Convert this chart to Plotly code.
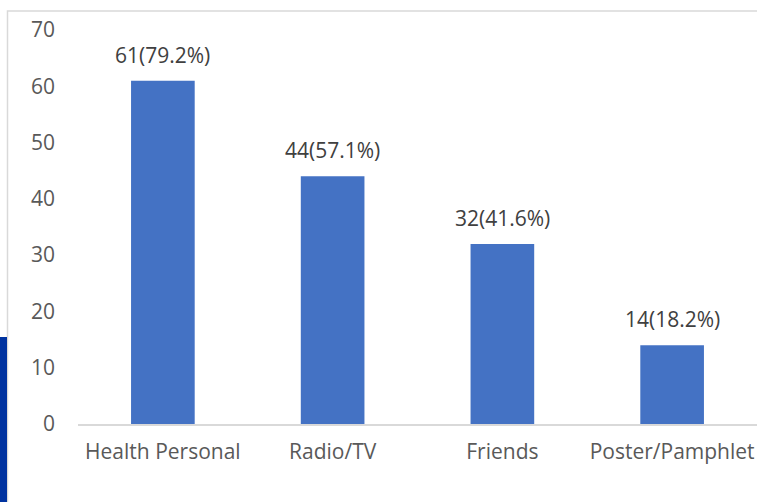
import plotly.graph_objects as go

categories = ["Health Personal", "Radio/TV", "Friends", "Poster/Pamphlet"]
counts = [61, 44, 32, 14]
percents = ["79.2%", "57.1%", "41.6%", "18.2%"]
y_ticks = [0, 10, 20, 30, 40, 50, 60, 70]

labels = [f"{c}({p})" for c, p in zip(counts, percents)]

W, H = 757, 502
ml, mr, mt, mb = 78, 0, 30, 78
pw, ph = W - ml - mr, H - mt - mb

def px(x):
    return (x - ml) / pw

def py(y):
    return (H - mb - y) / ph

FONT = "Open Sans"
FS = 21

fig = go.Figure(go.Bar(
    x=categories, y=counts,
    marker=dict(color="#4472C4", line=dict(width=0)),
    width=0.375, hoverinfo="x+y",
))

annotations = [
    dict(x=c, y=v, text=t, xref="x", yref="y", showarrow=False,
         yanchor="bottom", yshift=10,
         font=dict(family=FONT, size=FS, color="#404040"))
    for c, v, t in zip(categories, counts, labels)
]

fig.update_layout(
    width=W, height=H, margin=dict(l=ml, r=mr, t=mt, b=mb),
    paper_bgcolor="white", plot_bgcolor="white", showlegend=False,
    font=dict(family=FONT, size=FS, color="#595959"),
    xaxis=dict(showline=True, linecolor="#d9d9d9", linewidth=1.5, showgrid=False,
               ticks="", ticklabelstandoff=8, tickfont=dict(size=FS, color="#595959")),
    yaxis=dict(range=[0, 70], tickvals=y_ticks, showgrid=False, zeroline=False,
               showline=False, ticks="", ticklabelstandoff=22,
               tickfont=dict(size=FS, color="#595959")),
    annotations=annotations,
    shapes=[
        dict(type="rect", xref="paper", yref="paper", x0=px(7.5), x1=px(W + 20),
             y0=py(11), y1=py(H + 20), line=dict(color="#d9d9d9", width=1.5),
             fillcolor="rgba(0,0,0,0)", layer="below"),
        dict(type="rect", xref="paper", yref="paper", x0=px(-2), x1=px(7),
             y0=py(337), y1=py(H + 5), line=dict(width=0), fillcolor="#0033A0"),
    ],
)

fig.write_html("out.html", config={"displayModeBar": False},
               post_script="document.body.style.margin='0';document.body.style.overflow='hidden';")
